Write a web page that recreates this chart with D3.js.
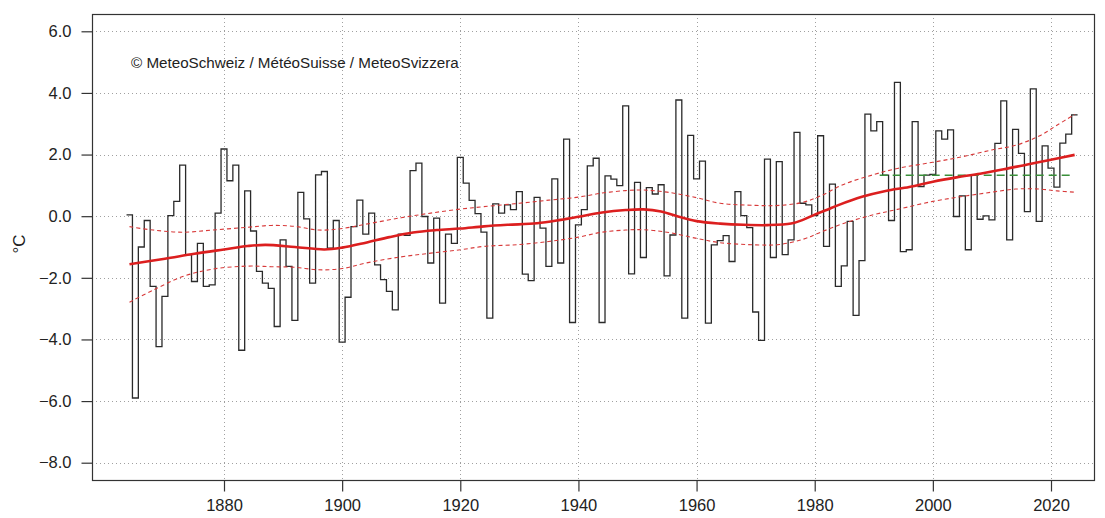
<!DOCTYPE html>
<html>
<head>
<meta charset="utf-8">
<script src="https://cdn.jsdelivr.net/npm/d3@7"></script>
<style>
  html, body { margin: 0; padding: 0; background: #fff; }
  svg { display: block; font-family: "Liberation Sans", Arial, Helvetica, sans-serif; }
</style>
</head>
<body>
<svg id="chart" width="1105" height="518"></svg>
<script>
// Annual temperature deviation (°C), 1864–2024
const firstYear = 1864;
const anomalies = [
  0.04, -5.90, -1.00, -0.14, -2.28, -4.23, -2.60, 0.02, 0.48, 1.66,
  -1.25, -2.12, -0.88, -2.28, -2.23, 0.10, 2.18, 1.15, 1.66, -4.35,
  0.82, -0.48, -1.79, -2.17, -2.34, -3.58, -0.77, -1.63, -3.38, 0.77,
  -0.09, -2.17, 1.34, 1.45, -1.04, -0.14, -4.09, -2.63, -0.34, 0.52,
  -0.58, 0.10, -1.58, -2.06, -2.44, -3.04, -0.58, -0.62, 1.48, 1.72,
  -0.01, -1.52, -0.06, -2.82, -0.58, -0.88, 1.91, 1.07, 0.51, 0.08,
  -0.52, -3.31, 0.40, 0.10, 0.37, 0.21, 0.80, -1.88, -2.09, 0.61,
  -0.39, -1.63, 1.21, -1.52, 2.50, -3.45, -0.28, 0.21, 1.63, 1.88,
  -3.45, 1.31, 1.20, 0.99, 3.58, -1.87, 1.10, -1.34, 0.93, 0.72,
  1.02, -1.94, -0.61, 3.77, -3.31, 2.62, 1.21, 1.79, -3.47, -0.93,
  -0.79, -0.63, -1.47, 0.80, 0.02, -0.37, -3.11, -4.03, 1.85, -1.34,
  1.77, -1.25, -0.77, 2.72, 0.42, 0.37, 0.02, 2.61, -0.98, 1.04,
  -2.28, -1.61, -0.17, -3.22, -1.44, 3.31, 2.77, 3.07, 1.33, -0.14,
  4.34, -1.15, -1.09, 3.07, 0.96, 1.33, 1.36, 2.77, 2.50, 2.80,
  -0.01, 0.66, -1.09, 1.33, -0.10, 0.01, -0.12, 2.36, 3.74, -0.77,
  2.82, 2.04, 0.15, 4.13, -0.17, 2.28, 1.56, 0.94, 2.37, 2.66,
  3.29
];

// Smoothed trend (Gaussian low-pass) and its confidence band
const trendYears = [1864, 1870, 1875, 1880, 1884, 1887, 1892, 1897, 1900, 1904,
  1908, 1912, 1916, 1920, 1924, 1928, 1933, 1937, 1940, 1944, 1948, 1951, 1954,
  1957, 1960, 1964, 1968, 1972, 1976, 1978, 1980, 1982, 1984, 1988, 1992, 1996, 2000,
  2004, 2008, 2012, 2016, 2020, 2024];
const trend = [-1.56, -1.38, -1.22, -1.08, -0.97, -0.93, -1.00, -1.08, -1.02, -0.86,
  -0.68, -0.53, -0.45, -0.40, -0.33, -0.28, -0.23, -0.12, -0.02, 0.12, 0.20, 0.22, 0.15,
  -0.02, -0.16, -0.24, -0.28, -0.29, -0.24, -0.12, 0.05, 0.20, 0.36, 0.63, 0.82, 0.95, 1.12,
  1.26, 1.38, 1.52, 1.68, 1.83, 1.99];

const bandYears = [1864, 1868, 1873, 1878, 1884, 1888, 1892, 1896, 1900, 1904,
  1910, 1915, 1920, 1924, 1930, 1935, 1940, 1944, 1948, 1951, 1955, 1960, 1964,
  1970, 1974, 1978, 1981, 1985, 1990, 1994, 2000, 2005, 2010, 2014, 2018, 2021, 2024];
const bandUpper = [-0.34, -0.45, -0.52, -0.45, -0.36, -0.30, -0.33, -0.45, -0.40, -0.26,
  -0.05, 0.10, 0.23, 0.31, 0.42, 0.52, 0.62, 0.75, 0.83, 0.85, 0.78, 0.60, 0.42,
  0.35, 0.35, 0.45, 0.66, 1.04, 1.35, 1.55, 1.75, 1.93, 2.15, 2.30, 2.60, 2.95, 3.30];
const bandLower = [-2.79, -2.40, -1.96, -1.72, -1.62, -1.64, -1.66, -1.74, -1.70, -1.52,
  -1.32, -1.20, -1.09, -0.98, -0.92, -0.82, -0.68, -0.52, -0.45, -0.44, -0.52, -0.72, -0.86,
  -0.93, -0.92, -0.75, -0.52, -0.23, 0.05, 0.22, 0.48, 0.64, 0.78, 0.88, 0.88, 0.82, 0.78];

// Mean of the 1991–2020 reference period
const normalStart = 1991;
const normalEnd = 2024;
const normalValue = 1.33;

const xTicks = [1880, 1900, 1920, 1940, 1960, 1980, 2000, 2020];
const yTicks = [-8, -6, -4, -2, 0, 2, 4, 6];
const yLabel = "°C";
const credit = "© MeteoSchweiz / MétéoSuisse / MeteoSvizzera";

const box = { left: 92, right: 1094, top: 14, bottom: 480 };

const x = d3.scaleLinear().domain([1880, 2020]).range([224, 1051]);
const y = d3.scaleLinear().domain([-8, 6]).range([462.7, 31.3]);

const svg = d3.select("#chart");

// grid
const grid = svg.append("g").attr("stroke", "#a0a0a0").attr("stroke-width", 1)
  .attr("stroke-dasharray", "1,3");
grid.selectAll("line.h").data(yTicks).join("line")
  .attr("x1", box.left).attr("x2", box.right)
  .attr("y1", d => Math.round(y(d)) + 0.5).attr("y2", d => Math.round(y(d)) + 0.5);
grid.selectAll("line.v").data(xTicks).join("line")
  .attr("y1", box.top).attr("y2", box.bottom)
  .attr("x1", d => Math.round(x(d)) + 0.5).attr("x2", d => Math.round(x(d)) + 0.5);

// plot frame
svg.append("rect")
  .attr("x", box.left + 0.5).attr("y", box.top + 0.5)
  .attr("width", box.right - box.left).attr("height", box.bottom - box.top)
  .attr("fill", "none").attr("stroke", "#333").attr("stroke-width", 1.2);

// axes
const yAxis = d3.axisLeft(y).tickValues(yTicks).tickFormat(d3.format(".1f"))
  .tickSize(11).tickPadding(10);
const gy = svg.append("g").attr("transform", `translate(${box.left + 0.5},0)`).call(yAxis);
gy.select(".domain").remove();

const xAxis = d3.axisBottom(x).tickValues(xTicks).tickFormat(d3.format("d"))
  .tickSize(11).tickPadding(8);
const gx = svg.append("g").attr("transform", `translate(0,${box.bottom + 0.5})`).call(xAxis);
gx.select(".domain").remove();

svg.selectAll(".tick line").attr("stroke", "#333").attr("stroke-width", 1.2);
svg.selectAll(".tick text").attr("fill", "#222").style("font-size", "16.5px")
  .style("font-family", "'Liberation Sans', Arial, sans-serif");

svg.append("text")
  .attr("transform", "translate(25,244) rotate(-90)")
  .attr("text-anchor", "middle")
  .attr("fill", "#222").style("font-size", "17px")
  .text(yLabel);

// yearly step series, each year centred on its tick
const stepData = anomalies.map((v, i) => [firstYear + i - 0.5, v]);
stepData.push([firstYear + anomalies.length - 0.5, anomalies[anomalies.length - 1]]);
svg.append("path")
  .datum(stepData)
  .attr("fill", "none").attr("stroke", "#2a2a2a").attr("stroke-width", 1.3)
  .attr("d", d3.line().x(d => x(d[0])).y(d => y(d[1])).curve(d3.curveStepAfter));

// reference-period mean
svg.append("line")
  .attr("x1", x(normalStart)).attr("x2", x(normalEnd))
  .attr("y1", y(normalValue)).attr("y2", y(normalValue))
  .attr("stroke", "#3a8f3a").attr("stroke-width", 1.6).attr("stroke-dasharray", "8,5");

const smooth = d3.line().x(d => x(d[0])).y(d => y(d[1])).curve(d3.curveCatmullRom.alpha(0.5));

// confidence band
[bandUpper, bandLower].forEach(vals => {
  svg.append("path")
    .datum(bandYears.map((yr, i) => [yr, vals[i]]))
    .attr("fill", "none").attr("stroke", "#d83a3a").attr("stroke-width", 1.1)
    .attr("stroke-dasharray", "4,3")
    .attr("d", smooth);
});

// trend
svg.append("path")
  .datum(trendYears.map((yr, i) => [yr, trend[i]]))
  .attr("fill", "none").attr("stroke", "#dc1f1f").attr("stroke-width", 2.6)
  .attr("d", smooth);

// credit line
svg.append("text")
  .attr("x", 131).attr("y", 68)
  .attr("fill", "#222").style("font-size", "15.2px")
  .text(credit);
</script>
</body>
</html>
